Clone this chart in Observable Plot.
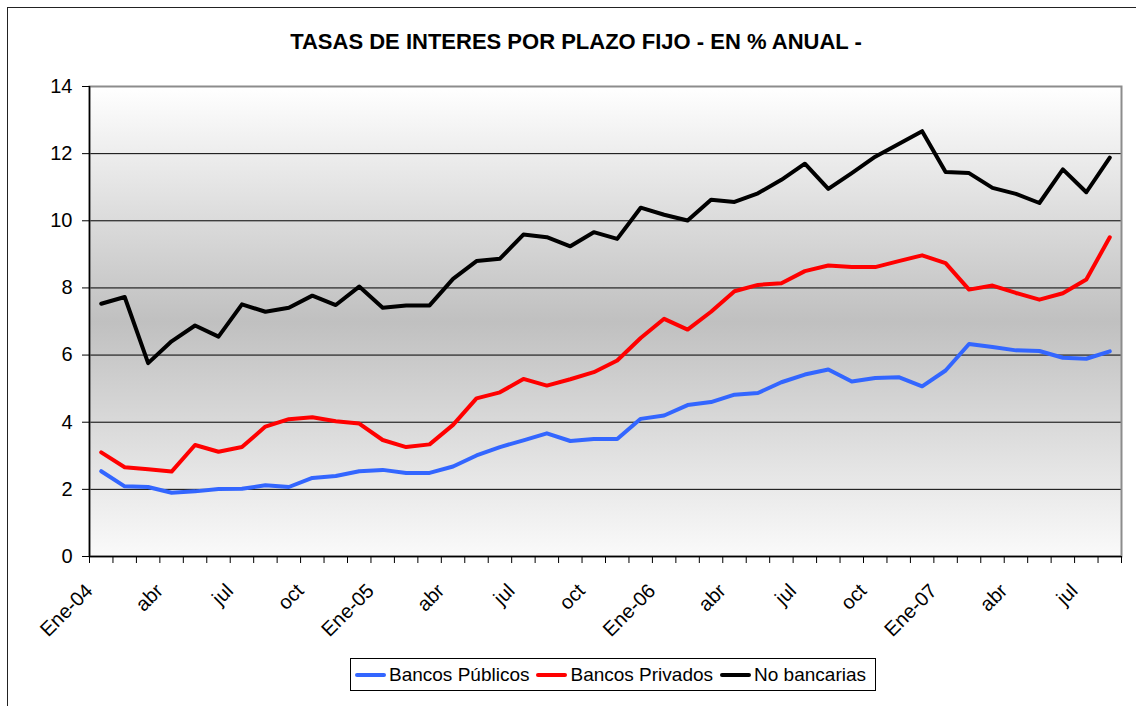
<!DOCTYPE html>
<html>
<head>
<meta charset="utf-8">
<script src="https://cdn.jsdelivr.net/npm/d3@7"></script>
<script src="https://cdn.jsdelivr.net/npm/@observablehq/plot@0.6"></script>
<style>
  html, body { margin: 0; background: #fff; font-family: "Liberation Sans", Arial, sans-serif; overflow: hidden; width: 1136px; height: 706px; }
  #frame { position: absolute; left: 7px; top: 7px; width: 1150px; height: 730px; border: 1.5px solid #222; box-sizing: border-box; }
  #title { position: absolute; left: 0; top: 30px; width: 1152px; text-align: center; font-weight: bold; font-size: 22px; line-height: 24px; color: #000; }
  #chart { position: absolute; left: 0; top: 60px; }
  #legend { position: absolute; left: 350px; top: 658px; width: 526px; height: 33px; border: 1px solid #000; box-sizing: border-box; background: #fff;
            display: flex; align-items: center; padding-left: 4px; font-size: 19px; color: #000; white-space: nowrap; }
  .sw { display: inline-block; width: 31px; height: 4px; border-radius: 2px; margin-right: 3px; }
  .item { display: flex; align-items: center; margin-right: 7px; }
</style>
</head>
<body>
<div id="frame"></div>
<div id="title">TASAS DE INTERES POR PLAZO FIJO - EN % ANUAL -</div>
<div id="chart"></div>
<div id="legend"></div>
<script>
// Month categories (Jan 2004 – Aug 2007)
const meses = [
  "Ene-04","feb","mar","abr","may","jun","jul","ago","sep","oct","nov","dic",
  "Ene-05","feb","mar","abr","may","jun","jul","ago","sep","oct","nov","dic",
  "Ene-06","feb","mar","abr","may","jun","jul","ago","sep","oct","nov","dic",
  "Ene-07","feb","mar","abr","may","jun","jul","ago"
];
const seriesNames = ["Bancos Públicos", "Bancos Privados", "No bancarias"];
const seriesColors = ["#3366ff", "#ff0000", "#000000"];

const bancosPublicos = [
  2.54, 2.09, 2.07, 1.90, 1.94, 2.01, 2.02, 2.12, 2.07, 2.34, 2.40, 2.54,
  2.58, 2.49, 2.49, 2.68, 3.01, 3.26, 3.46, 3.67, 3.44, 3.50, 3.50, 4.10,
  4.20, 4.51, 4.60, 4.82, 4.87, 5.19, 5.42, 5.57, 5.21, 5.32, 5.34, 5.07,
  5.54, 6.33, 6.24, 6.14, 6.12, 5.92, 5.89, 6.11
];
const bancosPrivados = [
  3.10, 2.66, 2.60, 2.53, 3.32, 3.12, 3.26, 3.87, 4.09, 4.15, 4.03, 3.96,
  3.47, 3.26, 3.34, 3.92, 4.71, 4.89, 5.29, 5.09, 5.28, 5.49, 5.84, 6.51,
  7.08, 6.76, 7.29, 7.90, 8.09, 8.14, 8.50, 8.67, 8.62, 8.62, 8.80, 8.97,
  8.74, 7.95, 8.07, 7.85, 7.65, 7.84, 8.25, 9.51
];
const noBancarias = [
  7.53, 7.73, 5.76, 6.41, 6.88, 6.55, 7.51, 7.29, 7.41, 7.77, 7.49, 8.04,
  7.41, 7.48, 7.48, 8.27, 8.80, 8.87, 9.59, 9.51, 9.24, 9.66, 9.46, 10.39,
  10.18, 10.01, 10.63, 10.56, 10.82, 11.22, 11.70, 10.95, 11.42, 11.91, 12.29, 12.67,
  11.45, 11.42, 10.98, 10.80, 10.53, 11.53, 10.85, 11.88
];
const yTicks = [0, 2, 4, 6, 8, 10, 12, 14];

const seriesValues = [bancosPublicos, bancosPrivados, noBancarias];
const data = seriesValues.flatMap((vals, s) =>
  vals.map((v, i) => ({ i, v, serie: seriesNames[s] }))
);
const n = meses.length;
const boundaries = d3.range(n + 1).map(k => k - 0.5);
const labelTicks = d3.range(0, n, 3);

const chart = Plot.plot({
  width: 1136,
  height: 600,
  marginTop: 26,
  marginBottom: 104,
  marginLeft: 89,
  marginRight: 15,
  style: { fontFamily: "Liberation Sans, Arial, sans-serif", fontSize: "20px", color: "#000", background: "transparent" },
  x: { type: "linear", domain: [-0.5, n - 0.5] },
  y: { domain: [0, 14] },
  color: { domain: seriesNames, range: seriesColors },
  marks: [
    Plot.frame({ fill: "url(#bg)" }),
    Plot.gridY(yTicks.filter(t => t > 0 && t < 14), { stroke: "#000", strokeOpacity: 1, strokeWidth: 1 }),
    Plot.frame({ stroke: "#8c8c8c", strokeWidth: 2 }),
    Plot.ruleX([-0.5], { stroke: "#000", strokeWidth: 1.5 }),
    Plot.ruleY([0], { stroke: "#000", strokeWidth: 1.5 }),
    Plot.axisY(yTicks, { tickSize: 7, tickPadding: 10, fontSize: 20, label: null, stroke: "#000" }),
    Plot.axisX(boundaries, { tickSize: 7, tickFormat: () => "", label: null, stroke: "#000" }),
    Plot.text(labelTicks, { x: d => d, frameAnchor: "bottom", text: d => meses[d], rotate: -45,
                            textAnchor: "end", lineAnchor: "middle", dx: -12, dy: 31, fontSize: 20, fill: "#000" }),
    Plot.line(data, { x: "i", y: "v", z: "serie", stroke: "serie", strokeWidth: 4,
                      strokeLinejoin: "round", strokeLinecap: "round" })
  ]
});

// gradient background definition for the plot area
const defs = d3.select(chart).insert("defs", ":first-child");
const g = defs.append("linearGradient").attr("id", "bg").attr("x1", 0).attr("y1", 0).attr("x2", 0).attr("y2", 1);
g.append("stop").attr("offset", "0%").attr("stop-color", "#ffffff");
g.append("stop").attr("offset", "50%").attr("stop-color", "#c0c0c0");
g.append("stop").attr("offset", "100%").attr("stop-color", "#fafafa");

document.getElementById("chart").appendChild(chart);

const legend = d3.select("#legend");
seriesNames.forEach((name, k) => {
  const it = legend.append("span").attr("class", "item");
  it.append("span").attr("class", "sw").style("background", seriesColors[k]);
  it.append("span").text(name);
});
</script>
</body>
</html>
